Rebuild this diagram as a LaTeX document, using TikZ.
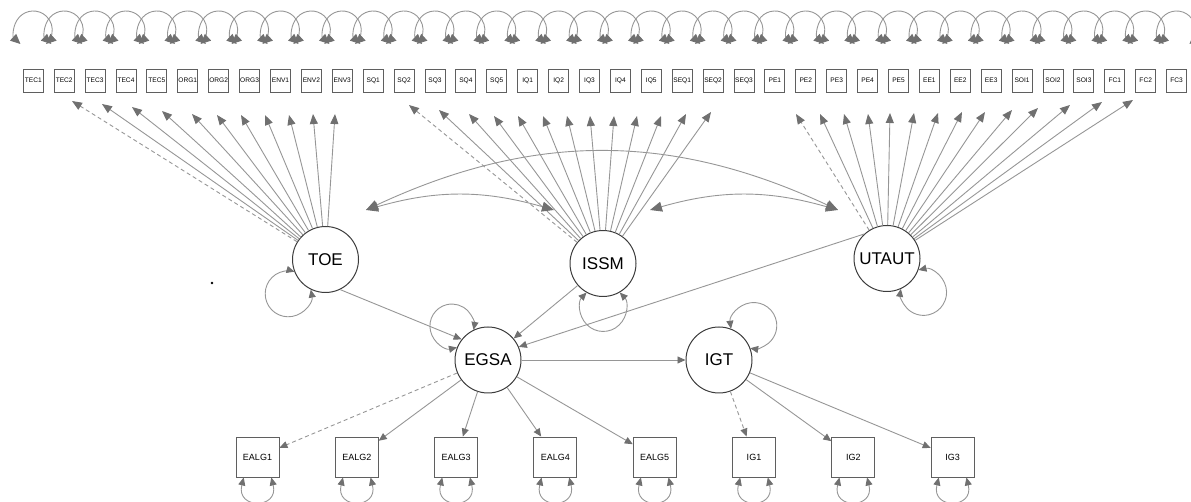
\documentclass[tikz,border=0pt]{standalone}
\usepackage{fontspec}
\setmainfont{Liberation Sans}
\usetikzlibrary{arrows.meta}

\definecolor{edgegray}{RGB}{150,150,150}
\definecolor{tipgray}{RGB}{112,112,112}
\definecolor{boxgray}{RGB}{95,95,95}
\definecolor{ringgray}{RGB}{60,60,60}

\tikzset{
  latent/.style={circle, draw=ringgray, fill=white, line width=0.5pt, minimum size=33pt, inner sep=0pt, font=\fontsize{8.5}{10}\selectfont},
  item/.style={rectangle, draw=boxgray, fill=white, line width=0.45pt, minimum width=10pt, minimum height=11.5pt, inner sep=0pt, font=\fontsize{3.3}{4}\selectfont},
  ind/.style={rectangle, draw=boxgray, fill=white, line width=0.45pt, minimum width=21.5pt, minimum height=20pt, inner sep=0pt, font=\fontsize{4.5}{5}\selectfont},
  loading/.style={draw=edgegray, line width=0.45pt, -{Triangle[length=5pt,width=4pt,color=tipgray]}},
  regpath/.style={draw=edgegray, line width=0.45pt, -{Triangle[length=4pt,width=3.5pt,color=tipgray]}},
  covpath/.style={draw=edgegray, line width=0.45pt, {Triangle[length=6pt,width=5pt,color=tipgray]}-{Triangle[length=6pt,width=5pt,color=tipgray]}},
  varloop/.style={draw=edgegray, line width=0.45pt, {Triangle[length=4pt,width=3.5pt,color=tipgray]}-{Triangle[length=4pt,width=3.5pt,color=tipgray]}},
  topvar/.style={draw=edgegray, line width=0.45pt, {Triangle[length=5pt,width=4.5pt,color=tipgray]}-{Triangle[length=5pt,width=4.5pt,color=tipgray]}},
  dashline/.style={dash pattern=on 2pt off 1.5pt}
}

\begin{document}
\begin{tikzpicture}[x=0.5pt,y=0.5pt]
  \useasboundingbox (0,0) rectangle (1191,-502);

  \foreach \i in {0,...,37} {
    \coordinate (lp\i) at ({33.3+30.9*\i-12.84},-44);
    \draw[topvar] (lp\i) arc[start angle=227.5, end angle=-47.5, radius=9.5pt];
  }
  \foreach \lab [count=\i from 0] in {TEC1,TEC2,TEC3,TEC4,TEC5,ORG1,ORG2,ORG3,ENV1,ENV2,ENV3,SQ1,SQ2,SQ3,SQ4,SQ5,IQ1,IQ2,IQ3,IQ4,IQ5,SEQ1,SEQ2,SEQ3,PE1,PE2,PE3,PE4,PE5,EE1,EE2,EE3,SOI1,SOI2,SOI3,FC1,FC2,FC3}
    \node[item] (\lab) at ({33.3+30.9*\i},-80.5) {\lab};

  \node[latent] (toe) at (325.5,-259.5) {TOE};
  \node[latent] (issm) at (603,-263.5) {ISSM};
  \node[latent] (utaut) at (887,-258.5) {UTAUT};
  \node[latent] (egsa) at (488,-360) {EGSA};
  \node[latent] (igt) at (719,-360) {IGT};

  \node[ind] (EALG1) at (257.5,-457) {EALG1};
  \node[ind] (EALG2) at (356.8,-457) {EALG2};
  \node[ind] (EALG3) at (456.1,-457) {EALG3};
  \node[ind] (EALG4) at (555.4,-457) {EALG4};
  \node[ind] (EALG5) at (654.7,-457) {EALG5};
  \node[ind] (IG1) at (754,-457) {IG1};
  \node[ind] (IG2) at (853.3,-457) {IG2};
  \node[ind] (IG3) at (952.6,-457) {IG3};

  \foreach \tx/\ty [count=\k] in {72/101,102/104,132/107,162/111,192/114,217/115,241/115,265/115,289/115,313/114,335/114}
    \coordinate (toe\k) at (\tx,-\ty);
  \foreach \tx/\ty [count=\k] in {409/105,439/110,469/114,494/116,518/116,543/116,567/116,590/116,614/116,637/116,661/116,686/114,711/112}
    \coordinate (issm\k) at (\tx,-\ty);
  \foreach \tx/\ty [count=\k] in {796/114,820/114,844/114,868/114,890/113,914/113,938/113,962/112,985/112,1012/110,1038/108,1070/105,1102/102,1133/100}
    \coordinate (utaut\k) at (\tx,-\ty);

  \draw[loading,dashline] (toe) -- (toe1);
  \foreach \k in {2,...,11} \draw[loading] (toe) -- (toe\k);
  \draw[loading,dashline] (issm) -- (issm1);
  \foreach \k in {2,...,13} \draw[loading] (issm) -- (issm\k);
  \draw[loading,dashline] (utaut) -- (utaut1);
  \foreach \k in {2,...,14} \draw[loading] (utaut) -- (utaut\k);

  \coordinate (toeC) at (366,-210);
  \coordinate (issmL) at (554,-210);
  \coordinate (issmR) at (650,-210);
  \coordinate (utautC) at (838,-210);
  \draw[covpath] (toeC) to[bend left=16] (issmL);
  \draw[covpath] (issmR) to[bend left=16] (utautC);
  \draw[covpath] (toeC) to[bend left=25] (utautC);

  \draw[varloop] (toe.244) arc[start angle=10.5, end angle=-285.9, radius=11.5pt];
  \draw[varloop] (egsa.158) arc[start angle=-76.8, end angle=-370.2, radius=11pt];
  \draw[varloop] (issm.300) arc[start angle=43.9, end angle=-223.9, radius=11.5pt];
  \draw[varloop] (igt.69) arc[start angle=188, end angle=-99, radius=11.5pt];
  \draw[varloop] (utaut.340) arc[start angle=102.8, end angle=-188.9, radius=11.5pt];

  \draw[regpath] (toe.-64) -- (egsa.142);
  \draw[regpath] (issm.221) -- (egsa.40);
  \draw[regpath] (utaut.133) -- (egsa.23);
  \draw[regpath] (egsa) -- (igt);

  \draw[regpath,dashline] (egsa) -- (EALG1);
  \draw[regpath] (egsa) -- (EALG2);
  \draw[regpath] (egsa) -- (EALG3);
  \draw[regpath] (egsa) -- (EALG4);
  \draw[regpath] (egsa) -- (EALG5);
  \draw[regpath,dashline] (igt) -- (IG1);
  \draw[regpath] (igt) -- (IG2);
  \draw[regpath] (igt) -- (IG3);

  \foreach \b in {EALG1,EALG2,EALG3,EALG4,EALG5,IG1,IG2,IG3}
    \draw[varloop] (\b.236) .. controls +(-8,-32) and +(8,-32) .. (\b.304);

  \fill (212,-283) circle (0.7pt);
\end{tikzpicture}
\end{document}
